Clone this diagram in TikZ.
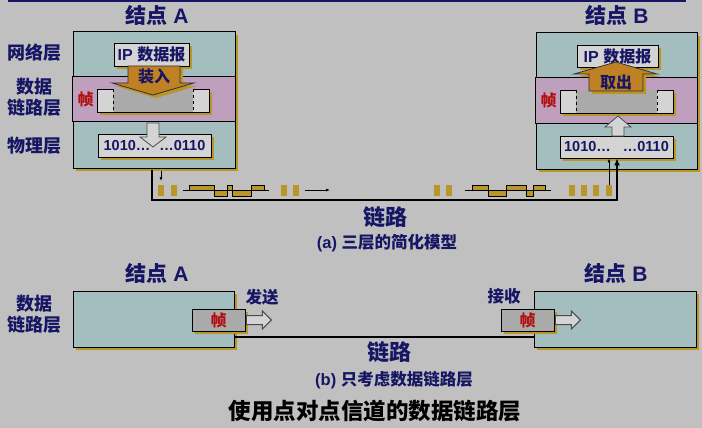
\documentclass[tikz,border=0pt]{standalone}
\usepackage{fontspec}
\setmainfont{Liberation Sans}
\newfontfamily\zh{Noto Sans CJK SC}
\usetikzlibrary{positioning, shadows, arrows.meta, calc}
\definecolor{bggray}{RGB}{192,192,192}
\definecolor{navy}{RGB}{22,22,100}
\definecolor{layerteal}{RGB}{164,190,192}
\definecolor{layerpink}{RGB}{190,160,190}
\definecolor{shadowgold}{RGB}{184,150,40}
\definecolor{arroworange}{RGB}{192,128,36}
\definecolor{framered}{RGB}{176,16,16}
\definecolor{framelight}{RGB}{212,212,212}
\definecolor{framedark}{RGB}{170,170,170}
\newcommand{\fsz}[1]{\fontsize{#1}{#1}\selectfont\bfseries}

\begin{document}
\begin{tikzpicture}[x=1pt, y=-1pt,
    gshadow/.style={drop shadow={shadow xshift=3pt, shadow yshift=-3pt, fill=shadowgold, opacity=1}},
    layerbox/.style={draw=black, line width=1pt, inner sep=0pt, gshadow},
    ipbox/.style={draw=black, line width=0.8pt, fill=framelight, inner sep=0pt, gshadow, text=navy, font=\fsz{16}},
    bitsbox/.style={draw=black, line width=0.8pt, fill=framelight, inner sep=0pt, gshadow, text=navy, font=\fsz{14.5}},
    framebox/.style={draw=black, line width=0.8pt, fill=framelight, inner sep=0pt, gshadow},
    title/.style={text=navy, font=\fsz{21}},
    layerlabel/.style={text=navy, align=center, font=\fontsize{18}{21.5}\selectfont\bfseries\zh},
    framelabel/.style={text=framered, font=\fsz{16}\zh},
    caption/.style={text=navy, font=\fsz{16.5}},
    linklabel/.style={text=navy, font=\fsz{22}\zh},
    orangearrow/.style={fill=arroworange, draw=black!80, line width=0.8pt, gshadow},
    hollowarrow/.style={fill=framelight, draw=black!70, line width=0.8pt},
    bit/.style={fill=shadowgold},
    pulse/.style={fill=shadowgold, draw=black, line width=0.7pt},
    link/.style={line width=2.5pt, black},
    thinarrow/.style={-{Latex[length=4pt, width=3pt]}, line width=0.7pt},
]
    \useasboundingbox (0,0) rectangle (702,428);
    \fill[bggray] (0,0) rectangle (702,428);
    \draw[navy, line width=2.5pt] (8,1) -- (686,1);

    % (a) three-layer model
    \node[title] (titleA) at (157,15) {{\zh 结点} A};
    \node[title] (titleB) at (617,15) {{\zh 结点} B};
    \node[layerlabel] (netL) at (35,53) {网络层};
    \node[layerlabel] (dlL) at (35,97.5) {数据\\链路层};
    \node[layerlabel] (phyL) at (35,146) {物理层};

    \node[layerbox, fill=layerteal, minimum width=162pt, minimum height=136pt] (nodeA) at (154,100) {};
    \draw[fill=layerpink, line width=1pt] ($(nodeA.north west)+(0,45)$) rectangle ($(nodeA.north east)+(0,90)$);
    \node[layerbox, fill=layerteal, minimum width=161pt, minimum height=136pt] (nodeB) at (616.5,101) {};
    \draw[fill=layerpink, line width=1pt] ($(nodeB.north west)+(0,45)$) rectangle ($(nodeB.north east)+(0,91)$);

    \node[ipbox, minimum width=75pt, minimum height=23pt] (ipA) at (151.5,54.5) {IP {\zh 数据报}};
    \node[ipbox, minimum width=81pt, minimum height=22pt] (ipB) at (617.5,56) {IP {\zh 数据报}};

    \node[framebox, minimum width=112pt, minimum height=23pt] (frameA) at (153,100.5) {};
    \node[framebox, minimum width=113pt, minimum height=23pt] (frameB) at (616.5,101.5) {};
    \foreach \fr in {frameA, frameB} {
        \fill[framedark] ($(\fr.north west)+(16.5,0.5)$) rectangle ($(\fr.south east)+(-16.5,-0.5)$);
        \draw[dashed, line width=0.7pt] ($(\fr.north west)+(16.5,0)$) -- ($(\fr.south west)+(16.5,0)$);
        \draw[dashed, line width=0.7pt] ($(\fr.north east)+(-16.5,0)$) -- ($(\fr.south east)+(-16.5,0)$);
    }
    \node[framelabel] (frLA) at (85.5,99) {帧};
    \node[framelabel] (frLB) at (548.5,100) {帧};

    \node[bitsbox, minimum width=113pt, minimum height=23pt] (physA) at (154.5,145.5) {1010…\hspace{9pt}…0110};
    \node[bitsbox, minimum width=113pt, minimum height=22pt] (physB) at (616.5,147) {1010…\hspace{12pt}…0110};

    \filldraw[orangearrow] (128,66) -- (180,66) -- (180,83) -- (194,83) -- (153,95) -- (112,83) -- (128,83) -- cycle;
    \node[text=navy, font=\fsz{16}\zh] (loadA) at (154,76) {装入};
    \filldraw[orangearrow] (589,91) -- (643,91) -- (643,74) -- (657,74) -- (616,62) -- (574,74) -- (589,74) -- cycle;
    \node[text=navy, font=\fsz{16}\zh] (takeB) at (616,82) {取出};

    \filldraw[hollowarrow] (147,123) -- (159,123) -- (159,137) -- (166,137) -- (153,147) -- (140,137) -- (147,137) -- cycle;
    \filldraw[hollowarrow] (612,136) -- (624,136) -- (624,127) -- (631,127) -- (618,116) -- (605,127) -- (612,127) -- cycle;

    % physical link
    \coordinate (linkA) at (152,170);
    \coordinate (cornerB) at (617,200);
    \draw[link, -{Latex[length=7pt, width=6pt]}] (linkA) |- (cornerB) -- (physB.south -| cornerB);
    \coordinate (sendA) at (161,171);
    \coordinate (sendEnd) at (161,181);
    \draw[thinarrow] (sendA) -- (sendEnd);
    \coordinate (recvB) at (609,185);
    \draw[thinarrow] (recvB) -- (recvB |- physB.south);
    \coordinate (flowS) at (305,190);
    \coordinate (flowE) at (330,190);
    \draw[thinarrow] (flowS) -- (flowE);

    \foreach \bx in {158,171,281,293,434,446,569,581,593,606}
        \fill[bit] (\bx,185) rectangle ++(6,11);
    \draw[line width=0.8pt] (183,190) -- (269,190);
    \foreach \a/\b/\h in {189/214/-5, 214/227/6, 227/232/-5, 232/251/6, 251/264/-5}
        \filldraw[pulse] (\a,190) rectangle (\b,{190+\h});
    \draw[line width=0.8pt] (465,190) -- (551,190);
    \foreach \a/\b/\h in {472/488/-5, 488/506/6, 506/526/-5, 526/533/6, 533/545/-5}
        \filldraw[pulse] (\a,190) rectangle (\b,{190+\h});

    \node[linklabel] (linkLa) at (385,217) {链路};
    \node[caption] (capA) at (387,243) {(a) {\zh 三层的简化模型}};

    % (b) data link layer only
    \node[title] (titleAb) at (157,273) {{\zh 结点} A};
    \node[title] (titleBb) at (616,273) {{\zh 结点} B};
    \node[layerlabel] (dlLb) at (35,314.5) {数据\\链路层};

    \node[layerbox, fill=layerteal, minimum width=161pt, minimum height=56pt] (nodeAb) at (153.5,319) {};
    \node[layerbox, fill=layerteal, minimum width=162pt, minimum height=56pt] (nodeBb) at (615,319) {};
    \node[framebox, fill=framedark, minimum width=53pt, minimum height=22pt] (frameAb) at (218.5,320) {};
    \node[framelabel] at (frameAb) {帧};
    \node[framebox, fill=framedark, minimum width=53pt, minimum height=22pt] (frameBb) at (527.5,320) {};
    \node[framelabel] at (frameBb) {帧};
    \foreach \fr in {frameAb, frameBb}
        \filldraw[hollowarrow, line width=1pt, shift={(\fr.east)}] (1,-4.5) -- (17,-4.5) -- (17,-9) -- (26,0) -- (17,9) -- (17,4.5) -- (1,4.5) -- cycle;
    \node[text=navy, font=\fsz{16.5}\zh] (sendL) at (262,297) {发送};
    \node[text=navy, font=\fsz{16.5}\zh] (recvL) at (504,296) {接收};

    \coordinate (linkb) at (0,337);
    \draw[link] (nodeAb.east |- linkb) -- (nodeBb.west |- linkb);
    \node[linklabel] (linkLb) at (389,352) {链路};
    \node[caption] (capB) at (394,380) {(b) {\zh 只考虑数据链路层}};
    \node[font=\fsz{22.5}\zh] (capMain) at (375,411) {使用点对点信道的数据链路层};
\end{tikzpicture}
\end{document}
